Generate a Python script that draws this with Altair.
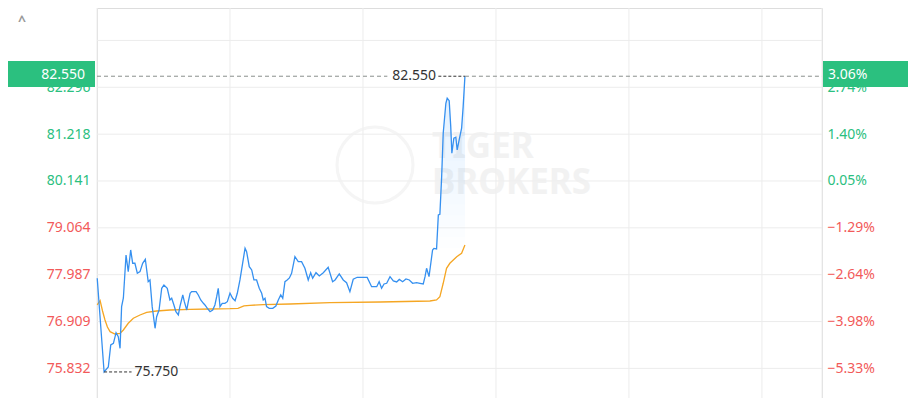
import altair as alt
import pandas as pd

# ---------------- data ----------------
t_price = [0.1, 3.2, 5.1, 6.2, 7.4, 8.6, 9.6, 10.4, 11.1, 11.9, 13.1, 14.1, 15.2, 16.1, 17.1, 18.2,
           19.4, 20.6, 21.8, 23.1, 23.9, 24.9, 26.2, 26.9, 28.0, 29.2, 30.2, 31.7, 32.9, 33.7, 34.7,
           35.6, 36.7, 37.4, 38.7, 39.4, 40.5, 41.2, 42.0, 42.7, 44.7, 45.7, 46.8, 48.0, 48.7, 49.8,
           51.0, 52.2, 53.2, 54.0, 54.7, 55.5, 56.5, 57.7, 58.8, 60.0, 61.2, 62.3, 63.3, 64.5, 65.7,
           66.8, 67.5, 68.7, 69.8, 70.8, 72.0, 73.2, 74.3, 75.0, 75.8, 76.5, 77.7, 79.3, 80.7, 81.8,
           82.9, 83.8, 84.8, 85.8, 86.8, 87.8, 89.3, 90.8, 92.3, 93.8, 95.3, 96.4, 97.3, 98.8, 100.3,
           102.1, 104.3, 106.3, 107.4, 109.3, 111.1, 112.6, 114.1, 115.6, 117.4, 119.4, 121.9, 123.9,
           126.2, 127.3, 128.4, 129.5, 130.7, 132.2, 133.7, 135.2, 136.4, 137.9, 139.4, 140.9, 142.4,
           144.2, 145.7, 147.2, 148.0, 148.7, 149.8, 150.5, 151.4, 152.0, 153.2, 154.0, 154.7, 155.5,
           156.2, 157.4, 158.0, 158.9, 159.6, 160.1, 161.0, 161.9, 162.5, 163.4, 164.5, 165.2, 166.0]
price = [77.904, 75.750, 75.864, 76.370, 76.409, 76.653, 76.561, 76.294, 77.251, 77.451, 78.440,
         78.056, 78.555, 78.249, 78.249, 78.019, 78.056, 78.249, 78.341, 77.826, 77.865, 77.251,
         76.754, 77.021, 77.175, 77.674, 77.750, 77.674, 77.405, 77.444, 77.290, 77.136, 77.060,
         77.251, 77.520, 77.366, 77.175, 77.366, 77.559, 77.596, 77.596, 77.520, 77.405, 77.329,
         77.290, 77.214, 77.136, 77.175, 77.290, 77.481, 77.674, 77.251, 77.329, 77.329, 77.366,
         77.559, 77.444, 77.389, 77.559, 77.865, 78.249, 78.594, 78.516, 78.171, 78.095, 77.865,
         77.865, 77.674, 77.559, 77.405, 77.444, 77.251, 77.214, 77.214, 77.267, 77.405, 77.520,
         77.444, 77.826, 77.865, 77.911, 78.019, 78.401, 78.286, 78.286, 78.134, 77.865, 78.033,
         77.904, 78.033, 77.957, 78.033, 78.157, 77.826, 77.865, 78.003, 77.865, 77.803, 77.596,
         77.881, 77.927, 77.927, 77.923, 77.711, 77.711, 77.826, 77.674, 77.773, 77.789, 77.941,
         77.842, 77.819, 77.877, 77.826, 77.888, 77.865, 77.789, 77.803, 77.789, 77.773, 77.941,
         78.134, 77.941, 78.210, 78.555, 78.590, 78.578, 79.360, 79.376, 80.241, 81.239, 81.929,
         82.044, 81.989, 81.391, 80.779, 81.124, 81.147, 80.855, 81.085, 81.354, 81.851, 82.550]

t_avg = [0.1, 1.4, 2.5, 3.6, 4.7, 5.9, 8.1, 10.4, 11.9, 14.1, 16.4, 19.4, 22.4, 26.9, 32.9, 42.0,
         51.0, 60.0, 63.6, 66.3, 69.0, 75.0, 87.1, 105.1, 127.7, 150.2, 153.2, 154.7, 156.2, 157.7,
         159.2, 162.3, 164.5, 166.0]
avg = [77.290, 77.389, 77.152, 76.945, 76.784, 76.676, 76.623, 76.639, 76.715, 76.869, 76.984,
       77.060, 77.122, 77.152, 77.175, 77.191, 77.198, 77.205, 77.214, 77.267, 77.283, 77.297,
       77.313, 77.343, 77.359, 77.382, 77.405, 77.481, 77.789, 78.134, 78.249, 78.401, 78.479,
       78.670]

y_ticks = [75.832, 76.909, 77.987, 79.064, 80.141, 81.218, 82.296, 83.373]
x_grid = [0, 60, 120, 180, 240, 300, 327.1]
prev_close = 80.10
last_price = 82.550
low_price = 75.750
watermark = ["TIGER", "BROKERS"]

# ---------------- style ----------------
GREEN = "#2bc07f"
RED = "#f25a5a"
BLUE = "#3590f0"
ORANGE = "#f5a623"
GRID = "#ececec"
FONT = "Noto Sans"
W, H = 725, 390
X_DOM = [0, 327.1]
Y_DOM = [75.151, 84.119]
# fill under the price line fades out downward: stacked translucent bands
FADE_LEVELS = [78.6 + 0.25 * i for i in range(17)]
FADE_OPACITY = 0.011

xs = alt.Scale(domain=X_DOM, nice=False, zero=False)
ys = alt.Scale(domain=Y_DOM, nice=False, zero=False)
x_enc = alt.X("t:Q", scale=xs, axis=None)
lab_color = {"condition": {"test": f"datum.value >= {prev_close}", "value": GREEN}, "value": RED}

df_p = pd.DataFrame({"t": t_price, "p": price})
df_a = pd.DataFrame({"t": t_avg, "p": avg})

t_last = t_price[-1]
t_low = t_price[price.index(low_price)]

bands = []
for lv in FADE_LEVELS:
    bands.append(
        alt.Chart(df_p).transform_calculate(top=f"max(datum.p, {lv})", base=f"{lv}")
        .mark_area(color="#3c9bf5", opacity=FADE_OPACITY)
        .encode(x=x_enc, y=alt.Y("top:Q", scale=ys, axis=None), y2="base:Q")
    )

# gridlines
hgrid = alt.Chart(pd.DataFrame({"p": y_ticks})).mark_rule(color=GRID, strokeWidth=1).encode(
    y=alt.Y("p:Q", scale=ys, axis=None))
vgrid = alt.Chart(pd.DataFrame({"t": x_grid})).mark_rule(color=GRID, strokeWidth=1).encode(
    x=alt.X("t:Q", scale=xs, axis=None))

left_axis = alt.Axis(orient="left", values=y_ticks, title=None, ticks=False, domain=False,
                     grid=False, labelPadding=7,
                     labelFont=FONT, labelFontSize=14, labelColor=lab_color,
                     labelExpr="datum.value > 83 ? '' : format(datum.value, '.3f')")
right_axis = alt.Axis(orient="right", values=y_ticks, title=None, ticks=False, domain=False,
                      grid=False, labelPadding=5,
                      labelFont=FONT, labelFontSize=14, labelColor=lab_color,
                      labelExpr=f"datum.value > 83 ? '' : format((datum.value/{prev_close}-1)*100, '.2f') + '%'")

avg_line = alt.Chart(df_a).mark_line(color=ORANGE, strokeWidth=1.3).encode(
    x=x_enc, y=alt.Y("p:Q", scale=ys, axis=right_axis))
price_line = alt.Chart(df_p).mark_line(color=BLUE, strokeWidth=1.3).encode(
    x=x_enc, y=alt.Y("p:Q", scale=ys, axis=left_axis))

# last-price guide line (split around label)
df_guide = pd.DataFrame({"t": [0, t_last], "t2": [t_last - 35, X_DOM[1]],
                         "p": [last_price, last_price]})
guide = alt.Chart(df_guide).mark_rule(color="#8a8f8c", strokeDash=[4, 3], strokeWidth=1).encode(
    x=x_enc, x2="t2:Q", y=alt.Y("p:Q", scale=ys, axis=None))
df_last = pd.DataFrame({"t": [t_last - 12], "t2": [t_last], "p": [last_price],
                        "lab": [f"{last_price:.3f}"]})
last_dash = alt.Chart(df_last).mark_rule(color="#333333", strokeDash=[3, 2], strokeWidth=1).encode(
    x=x_enc, x2="t2:Q", y=alt.Y("p:Q", scale=ys, axis=None))
last_text = alt.Chart(df_last).mark_text(align="right", baseline="middle", dx=-29, font=FONT,
                                         fontSize=14, color="#333333").encode(
    x=alt.X("t2:Q", scale=xs, axis=None), y=alt.Y("p:Q", scale=ys, axis=None), text="lab:N")

df_low = pd.DataFrame({"t": [t_low], "t2": [t_low + 12.4], "p": [low_price],
                       "lab": [f"{low_price:.3f}"]})
low_dash = alt.Chart(df_low).mark_rule(color="#333333", strokeDash=[3, 2], strokeWidth=1).encode(
    x=x_enc, x2="t2:Q", y=alt.Y("p:Q", scale=ys, axis=None))
low_text = alt.Chart(df_low).mark_text(align="left", baseline="middle", dx=3, font=FONT,
                                       fontSize=14, color="#333333").encode(
    x=alt.X("t2:Q", scale=xs, axis=None), y=alt.Y("p:Q", scale=ys, axis=None), text="lab:N")

# price tags on both axes
pct = (last_price / prev_close - 1) * 100
df_tag = pd.DataFrame({"lo": [last_price - 0.25], "hi": [last_price + 0.35], "p": [last_price],
                       "l": [f"{last_price:.3f}"], "r": [f"{pct:.2f}%"]})
tag_l = alt.Chart(df_tag).mark_rect(color=GREEN).encode(
    x=alt.value(-89), x2=alt.value(-2), y=alt.Y("lo:Q", scale=ys, axis=None), y2="hi:Q")
tag_r = alt.Chart(df_tag).mark_rect(color=GREEN).encode(
    x=alt.value(726), x2=alt.value(811), y=alt.Y("lo:Q", scale=ys, axis=None), y2="hi:Q")
tag_lt = alt.Chart(df_tag).mark_text(align="right", baseline="middle", dy=-1, font=FONT,
                                     fontSize=14, color="white").encode(
    x=alt.value(-12), y=alt.Y("p:Q", scale=ys, axis=None), text="l:N")
tag_rt = alt.Chart(df_tag).mark_text(align="left", baseline="middle", dy=-1, font=FONT,
                                     fontSize=14, color="white").encode(
    x=alt.value(731), y=alt.Y("p:Q", scale=ys, axis=None), text="r:N")

# watermark
wm_circle = alt.Chart(pd.DataFrame({"a": [0]})).mark_point(
    shape="circle", size=5776, filled=False, stroke="#f1f1f1", strokeWidth=3).encode(
    x=alt.value(278), y=alt.value(157))
wm1 = alt.Chart(pd.DataFrame({"a": [0]})).mark_text(
    text=watermark[0], align="left", baseline="alphabetic", font=FONT, fontSize=35,
    fontWeight="bold", color="#f0f0f0", opacity=0.8).encode(x=alt.value(335), y=alt.value(150))
wm2 = alt.Chart(pd.DataFrame({"a": [0]})).mark_text(
    text=watermark[1], align="left", baseline="alphabetic", font=FONT, fontSize=35,
    fontWeight="bold", color="#f0f0f0", opacity=0.8).encode(x=alt.value(335), y=alt.value(186))
caret = alt.Chart(pd.DataFrame({"a": [0]})).mark_text(
    text="^", align="center", baseline="middle", font=FONT, fontSize=14, fontWeight="bold",
    color="#999999").encode(x=alt.value(-75), y=alt.value(14))

chart = alt.layer(
    hgrid, vgrid, wm_circle, wm1, wm2, *bands, avg_line, price_line, guide, last_dash,
    last_text, low_dash, low_text, tag_l, tag_r, tag_lt, tag_rt, caret
).resolve_scale(y="shared").resolve_axis(y="independent").properties(
    width=W, height=H,
    autosize=alt.AutoSizeParams(type="none"),
    padding={"left": 89, "top": 0, "right": 86, "bottom": 0},
).configure_view(stroke=None).configure(background="white")

chart.save("out.html", embed_options={"renderer": "svg", "actions": False})
